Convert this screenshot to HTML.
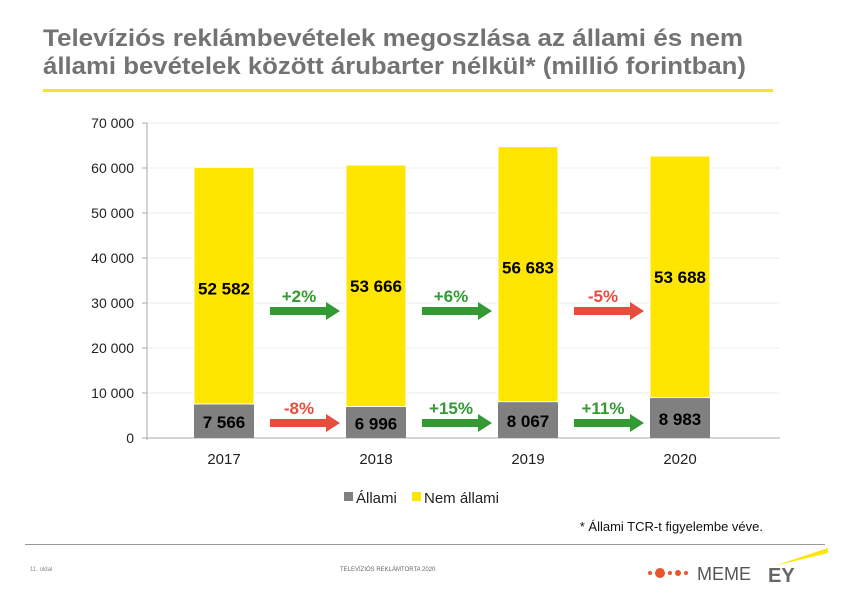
<!DOCTYPE html>
<html><head><meta charset="utf-8"><style>
body{margin:0;background:#fff;width:842px;height:598px;overflow:hidden;font-family:"Liberation Sans",sans-serif}
</style></head><body>
<svg width="842" height="598" xmlns="http://www.w3.org/2000/svg">
<text x="43" y="46" font-size="24" font-weight="bold" fill="#737373" textLength="700" lengthAdjust="spacingAndGlyphs">Televíziós reklámbevételek megoszlása az állami és nem</text>
<text x="43" y="74" font-size="24" font-weight="bold" fill="#737373" textLength="703" lengthAdjust="spacingAndGlyphs">állami bevételek között árubarter nélkül* (millió forintban)</text>
<rect x="43" y="89" width="730" height="3" fill="#f2e431"/>
<g id="grid"></g><g id="bars"></g><g id="ann"></g>
<g>
<rect x="344" y="492" width="9" height="9" fill="#808080"/>
<text x="356" y="503" font-size="15" fill="#222">Állami</text>
<rect x="412" y="492" width="9" height="9" fill="#ffe600"/>
<text x="424" y="503" font-size="15" fill="#222">Nem állami</text>
</g>
<text x="763" y="531" font-size="13" fill="#111" text-anchor="end">* Állami TCR-t figyelembe véve.</text>
<rect x="25" y="544" width="800" height="1" fill="#999"/>
<text x="30" y="571" font-size="6" fill="#888">11. oldal</text>
<text x="340" y="571" font-size="6" fill="#666">TELEVÍZIÓS REKLÁMTORTA 2020</text>
<g>
<circle cx="650" cy="573" r="2" fill="#e8552d"/><circle cx="660" cy="573" r="5" fill="#e8552d"/><circle cx="670" cy="573" r="2" fill="#e8552d"/><circle cx="678" cy="573" r="3" fill="#e8552d"/><circle cx="686" cy="573" r="2" fill="#e8552d"/>
<text x="697" y="580" font-size="18" fill="#555">MEME</text>
</g>
<g>
<polygon points="774,566 828,548 828,553" fill="#ffe600"/>
<text x="768" y="582" font-size="20" font-weight="bold" fill="#666">EY</text>
</g>
</svg>
<script>
const years=["2017","2018","2019","2020"];
const allami=[7566,6996,8067,8983];
const nemAllami=[52582,53666,56683,53688];
const ticks=[0,10000,20000,30000,40000,50000,60000,70000];
const tickLabels=["0","10 000","20 000","30 000","40 000","50 000","60 000","70 000"];
const changeNem=["+2%","+6%","-5%"];
const changeAll=["-8%","+15%","+11%"];
const NS="http://www.w3.org/2000/svg";
const y=v=>438-v*0.0045, x=i=>224+i*152, BW=60;
function mk(t,a,p){const e=document.createElementNS(NS,t);for(const k in a)e.setAttribute(k,a[k]);(p||document.getElementById('bars')).appendChild(e);return e;}
const fmt=v=>String(v).replace(/\B(?=(\d{3})+(?!\d))/g,' ');
const g=document.getElementById('grid');
ticks.forEach((t,i)=>{
 const l=mk('line',{x1:147,x2:780,y1:y(t),y2:y(t),stroke:i?'#eeeeee':'#aaa'},g);
 
 
 mk('line',{x1:142,x2:147,y1:y(t),y2:y(t),stroke:'#aaa'},g);
 const tx=mk('text',{x:134,y:y(t)+5,'font-size':14,fill:'#222','text-anchor':'end'},g);tx.textContent=tickLabels[i];
 
 
});
const ax=mk('line',{x1:147,x2:147,y1:y(70000),y2:y(0)+2,stroke:'#aaa'},g);


years.forEach((yr,i)=>{
 const b1=mk('rect',{x:x(i)-BW/2,y:y(allami[i]),width:BW,height:y(0)-y(allami[i]),fill:'#808080'});
 
 
 const tot=allami[i]+nemAllami[i];
 const b2=mk('rect',{x:x(i)-BW/2,y:y(tot),width:BW,height:y(allami[i])-y(tot),fill:'#ffe600',stroke:'#fff','stroke-width':1});
 
 
 const t1=mk('text',{x:x(i),y:(y(allami[i])+y(0))/2+7,'font-size':17,'font-weight':'bold',fill:'#000','text-anchor':'middle'});t1.textContent=fmt(allami[i]);
 
 
 const t2=mk('text',{x:x(i),y:y(tot)+127,'font-size':17,'font-weight':'bold',fill:'#000','text-anchor':'middle'});t2.textContent=fmt(nemAllami[i]);
 
 
 const yl=mk('text',{x:x(i),y:464,'font-size':15,fill:'#222','text-anchor':'middle'});yl.textContent=yr;
 
 
});
const an=document.getElementById('ann');
function arrow(cx,cy,lab,grp){
 const col=lab[0]=='-'?'#e84c3d':'#339933';
 const x0=cx-30,x1=cx+40;
 const p=mk('polygon',{points:`${x0},${cy-4} ${x1-14},${cy-4} ${x1-14},${cy-9} ${x1},${cy} ${x1-14},${cy+9} ${x1-14},${cy+4} ${x0},${cy+4}`,fill:col},an);
 
 
 const t=mk('text',{x:cx-1,y:cy-9,'font-size':17,'font-weight':'bold',fill:col,'text-anchor':'middle'},an);t.textContent=lab;
 
 
}
for(let i=0;i<3;i++){const cx=(x(i)+x(i+1))/2;arrow(cx,311,changeNem[i],'nem-allami');arrow(cx,423,changeAll[i],'allami');}
</script>
</body></html>
